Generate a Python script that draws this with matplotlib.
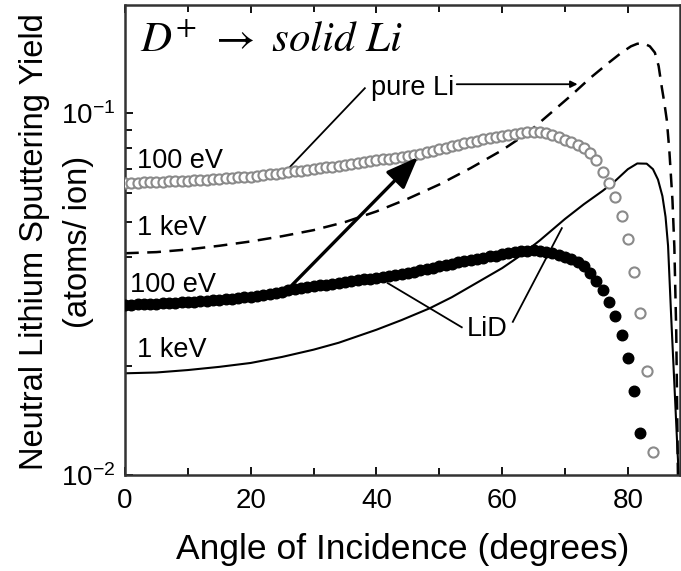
import numpy as np
import matplotlib
matplotlib.use("Agg")
import matplotlib.pyplot as plt
from matplotlib.ticker import FixedLocator, LogLocator, NullFormatter

plt.rcParams['font.family'] = ['Liberation Sans', 'DejaVu Sans']
plt.rcParams['mathtext.fontset'] = 'stix'

# pure Li, 100 eV (open grey circles), one point per degree
pure_100_angle = list(range(0, 85))
pure_100_yield = [
    .0641, .0642, .0643, .0644, .0645, .0646, .0647, .0648, .0649, .0650,
    .0651, .0652, .0654, .0655, .0657, .0658, .0660, .0662, .0664, .0666,
    .0668, .0671, .0674, .0677, .0680, .0684, .0688, .0691, .0694, .0697,
    .0700, .0704, .0708, .0712, .0716, .0720, .0724, .0728, .0732, .0737,
    .0741, .0745, .0749, .0753, .0758, .0762, .0766, .0773, .0780, .0787,
    .0795, .0803, .0810, .0818, .0826, .0833, .0840, .0846, .0852, .0857,
    .0862, .0868, .0874, .0880, .0885, .0889, .0888, .0882, .0872, .0860,
    .0845, .0830, .0815, .0800, .0776, .0741, .0687, .0641, .0586, .0519,
    .0449, .0364, .0281, .0194, .0116,
]

# LiD, 100 eV (filled black circles)
lid_100_angle = list(range(0, 83))
lid_100_yield = [
    .0295, .0295, .0296, .0296, .0297, .0297, .0298, .0298, .0299, .0300,
    .0300, .0301, .0302, .0303, .0304, .0305, .0306, .0307, .0308, .0310,
    .0311, .0313, .0315, .0317, .0319, .0321, .0324, .0326, .0328, .0330,
    .0332, .0334, .0336, .0338, .0340, .0342, .0344, .0346, .0347, .0349,
    .0351, .0353, .0355, .0358, .0360, .0362, .0365, .0368, .0371, .0374,
    .0377, .0381, .0384, .0387, .0390, .0393, .0396, .0399, .0402, .0404,
    .0407, .0410, .0413, .0415, .0417, .0418, .0417, .0414, .0410, .0405,
    .0400, .0395, .0388, .0378, .0362, .0344, .0324, .0301, .0275, .0244,
    .0211, .0171, .0131,
]

# pure Li, 1 keV (dashed)
pure_1k_angle = [0, 5, 10, 15, 20, 25, 30, 35, 40, 45, 50, 55, 60, 64, 68, 71,
                 74, 77, 79, 80.5, 81.5, 82.5, 83.5, 84.3, 84.9, 85.4, 85.8,
                 86.2, 86.6, 87.1, 87.4, 87.7, 88.0]
pure_1k_yield = [.0410, .0413, .0420, .0430, .0442, .0457, .0475, .0500, .0535,
                 .0580, .0635, .0705, .0790, .0880, .1010, .1120, .1250, .1380,
                 .1470, .1530, .1555, .1560, .1530, .1470, .1350, .1180, .1070,
                 .0957, .0790, .0575, .0427, .0250, .0090]

# LiD, 1 keV (solid)
lid_1k_angle = [0, 5, 10, 15, 20, 25, 30, 34, 40, 44, 48.5, 52, 56, 60, 63, 66,
                70, 73, 76, 78, 80, 81.5, 83, 84, 84.8, 85.5, 86, 86.4, 86.9,
                87.4, 87.9, 88.1]
lid_1k_yield = [.0191, .0192, .0195, .0199, .0204, .0212, .0222, .0232, .0252,
                .0268, .0289, .0310, .0340, .0373, .0405, .0445, .0510, .0560,
                .0610, .0650, .0700, .0726, .0725, .0700, .0655, .0590, .0517,
                .0430, .0273, .0179, .0117, .0100]

fig = plt.figure(figsize=(6.81, 5.71), dpi=100)
ax = fig.add_axes([125/681, 1 - 475/571, 555/681, 470/571])

ax.plot(pure_1k_angle, pure_1k_yield, color='black', lw=1.8, dashes=(5.5, 3.4))
ax.plot(lid_1k_angle, lid_1k_yield, color='black', lw=1.5)
ax.plot(lid_100_angle, lid_100_yield, 'o', color='black', ms=7.6, mec='black', zorder=3)
ax.plot(pure_100_angle, pure_100_yield, 'o', mfc='white', mec='#8a8a8a', mew=1.5,
        ms=7.3, zorder=4)

ax.set_yscale('log')
ax.set_xlim(0, 88.3)
ax.set_ylim(0.01, 0.199)

ax.xaxis.set_major_locator(FixedLocator([0, 20, 40, 60, 80]))
ax.xaxis.set_minor_locator(FixedLocator([10, 30, 50, 70]))
ax.yaxis.set_major_locator(FixedLocator([0.01, 0.1]))
ax.yaxis.set_minor_locator(LogLocator(base=10, subs=np.arange(2, 10)))
ax.yaxis.set_minor_formatter(NullFormatter())
ax.set_yticklabels([r'$\mathregular{10^{-2}}$', r'$\mathregular{10^{-1}}$'])

ax.tick_params(which='both', direction='in', top=True, right=False, width=1.3,
               labelsize=20, pad=9)
ax.tick_params(axis='y', pad=7)
ax.tick_params(which='major', length=6)
ax.tick_params(which='minor', length=5)
for s in ax.spines.values():
    s.set_linewidth(1.8)
    s.set_color('#333333')

ax.set_xlabel('Angle of Incidence (degrees)', fontsize=25.5, labelpad=14)
fig.text(35/681, 1 - 242/571, 'Neutral Lithium Sputtering Yield',
         rotation=90, ha='center', va='center', fontsize=23.5)
fig.text(78/681, 1 - 242/571, '(atoms/ ion)',
         rotation=90, ha='center', va='center', fontsize=23.5)

ax.text(0.027, 0.9, r'$D^{+}\ \rightarrow\ solid\ Li$', transform=ax.transAxes,
        fontsize=31, va='baseline', ha='left')

lab = dict(fontsize=19.5, ha='center', va='center')
ax.text(8.74, 0.0737, '100 eV', **lab)
ax.text(7.47, 0.0481, '1 keV', **lab)
ax.text(7.63, 0.0335, '100 eV', **lab)
ax.text(7.47, 0.0221, '1 keV', **lab)
ax.text(45.8, 0.1172, 'pure Li', **lab)
ax.text(57.55, 0.0253, 'LiD', **lab)

thin = dict(color='black', lw=1.3)
ax.plot([25.76, 38.16], [0.0696, 0.1172], **thin)
ax.annotate('', xy=(72.0, 0.1202), xytext=(52.78, 0.1202),
            arrowprops=dict(arrowstyle='-|>', color='black', lw=1.3,
                            mutation_scale=10, shrinkA=0, shrinkB=0))
ax.annotate('', xy=(46.6, 0.0756), xytext=(25.76, 0.0324),
            arrowprops=dict(arrowstyle='-|>,head_length=1.4,head_width=0.55',
                            color='black', lw=2.4, mutation_scale=14,
                            shrinkA=0, shrinkB=0), zorder=5)
ax.plot([53.58, 41.8], [0.0256, 0.0339], **thin)
ax.plot([61.7, 69.5], [0.0265, 0.0481], **thin)

fig.savefig('out.png', dpi=100)
